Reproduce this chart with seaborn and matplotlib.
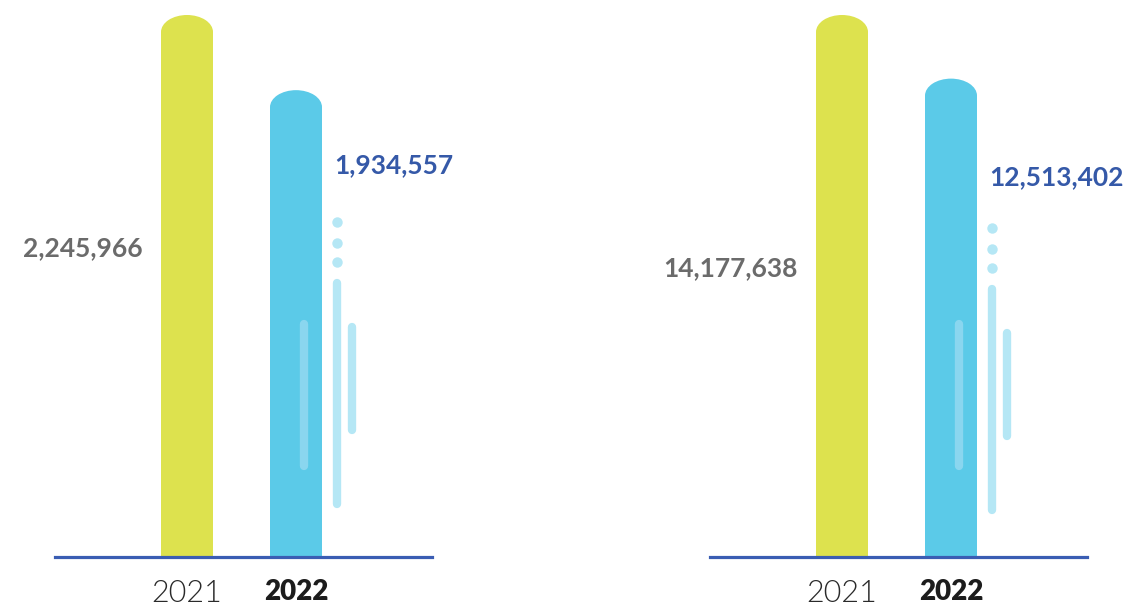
import matplotlib
matplotlib.use("Agg")
import matplotlib.pyplot as plt
from matplotlib.patches import Ellipse
from matplotlib.lines import Line2D
import seaborn as sns
import pandas as pd

# ---- data -------------------------------------------------------------
years = ["2021", "2022"]
panel_a_values = [2245966, 1934557]
panel_b_values = [14177638, 12513402]
panel_a_labels = ["2,245,966", "1,934,557"]
panel_b_labels = ["14,177,638", "12,513,402"]

# ---- style ------------------------------------------------------------
sns.set_theme(style="white")
plt.rcParams["font.family"] = ["Lato", "DejaVu Sans"]

W, H = 1128, 606
DPI = 100
BAR_COLORS = ["#dde24e", "#5bcae8"]
LABEL_COLORS = ["#6b6b6b", "#3559a8"]
BASE_COLOR = "#3a5db3"
DECOR_LIGHT = "#b5e7f5"
DECOR_INNER = "#8ad6ef"

AX_W_PX = 377
AX_H_PX = 552
BASE_Y_PX = 557          # baseline, pixels from top
CAT_STEP_PX = 109        # distance between bar centres
FIRST_CENTER_PX = 132    # first bar centre from axes left
BAR_W_PX = 52
CAP_HALF_PX = 17         # vertical half-height of rounded top

fig = plt.figure(figsize=(W / DPI, H / DPI), dpi=DPI)
fig.patch.set_facecolor("white")


def draw_panel(left_px, values, labels, label_fracs, decor_shift):
    ax = fig.add_axes([left_px / W, (H - BASE_Y_PX) / H, AX_W_PX / W, AX_H_PX / H])
    upp_y = values[0] / 542.0                     # data units per pixel
    ymax = AX_H_PX * upp_y
    x0 = -FIRST_CENTER_PX / CAT_STEP_PX
    x1 = x0 + AX_W_PX / CAT_STEP_PX
    upp_x = 1.0 / CAT_STEP_PX

    df = pd.DataFrame({"year": years, "value": values})
    sns.barplot(data=df, x="year", y="value", hue="year", palette=BAR_COLORS,
                width=BAR_W_PX / CAT_STEP_PX, legend=False, ax=ax,
                saturation=1, edgecolor="none", linewidth=0)

    cap_h = CAP_HALF_PX * upp_y
    for patch, val, col in zip(ax.patches, values, BAR_COLORS):
        patch.set_height(val - cap_h)
        cx = patch.get_x() + patch.get_width() / 2
        ax.add_patch(Ellipse((cx, val - cap_h), patch.get_width(), 2 * cap_h,
                             facecolor=col, edgecolor="none", clip_on=False))

    ax.set_xlim(x0, x1)
    ax.set_ylim(0, ymax)
    ax.set_xlabel("")
    ax.set_ylabel("")
    ax.set_yticks([])
    for s in ["top", "left", "right"]:
        ax.spines[s].set_visible(False)
    ax.spines["bottom"].set_color(BASE_COLOR)
    ax.spines["bottom"].set_linewidth(2.3)
    ax.spines["bottom"].set_zorder(5)
    ax.tick_params(axis="x", length=0, pad=16)
    ax.set_xticks([0, 1])
    ax.set_xticklabels(years)
    t0, t1 = ax.get_xticklabels()
    t0.set_fontsize(22)
    t0.set_fontweight(300)
    t0.set_color("#2a2a2a")
    t1.set_fontsize(20)
    t1.set_fontweight("heavy")
    t1.set_color("#1c1c1c")
    t1.set_x(1.02)

    half_w = (BAR_W_PX / CAT_STEP_PX) / 2
    # value labels
    ax.text(0 - half_w - 18 * upp_x, values[0] * label_fracs[0], labels[0],
            ha="right", va="center", fontsize=19, fontweight="bold",
            color=LABEL_COLORS[0])
    ax.text(1 + half_w + 12 * upp_x, values[1] * label_fracs[1], labels[1],
            ha="left", va="center", fontsize=19, fontweight="bold",
            color=LABEL_COLORS[1])

    # ornamental strokes beside the 2022 bar
    def stroke(dx_px, y0_px, y1_px, color, lw=6):
        x = 1 + dx_px * upp_x
        ax.add_line(Line2D([x, x], [y0_px * upp_y, y1_px * upp_y], color=color,
                           lw=lw, solid_capstyle="round", zorder=3))

    s = decor_shift
    for dy in (335, 314, 295):
        ax.plot([1 + 41 * upp_x], [(dy - s) * upp_y], "o", ms=7.5,
                color=DECOR_LIGHT, mec="none", zorder=3)
    stroke(40.5, 53 - s, 274 - s, DECOR_LIGHT)
    stroke(56, 127 - s, 230 - s, DECOR_LIGHT)
    stroke(7.5, 91, 233, DECOR_INNER)
    return ax


draw_panel(55, panel_a_values, panel_a_labels, [0.57, 0.84], 0)
draw_panel(710, panel_b_values, panel_b_labels, [0.533, 0.795], 6)

fig.savefig("out.png", dpi=DPI, facecolor="white")
